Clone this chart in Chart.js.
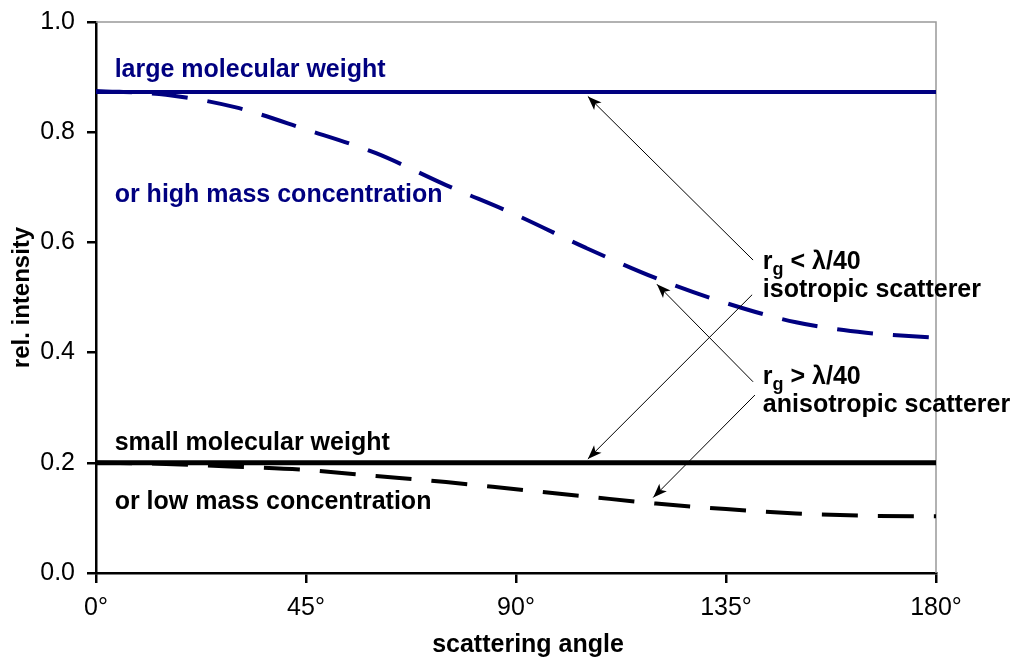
<!DOCTYPE html>
<html lang="en">
  <head>
    <meta charset="UTF-8">
    <title>Relative scattering intensity</title>
    <style>
      html, body { margin: 0; padding: 0; background: #fff; }
      .wrap { width: 1013px; height: 660px; }
    </style>
  </head>
  <body>
    <div class="wrap">
      <canvas id="myChart" width="1013" height="660"></canvas>
    </div>

    <script src="https://cdn.jsdelivr.net/npm/chart.js"></script>
    <script>
      // values
      const angles = [0, 15, 30, 45, 60, 75, 90, 105, 120, 135, 150, 165, 180];
      const highAniso = [0.875, 0.868, 0.845, 0.805, 0.762, 0.704, 0.65, 0.59, 0.535, 0.49, 0.455, 0.436, 0.427];
      const lowAniso = [0.2, 0.198, 0.193, 0.187, 0.176, 0.165, 0.152, 0.139, 0.126, 0.116, 0.108, 0.104, 0.103];
      const isoAngles = [0, 180];
      const highIso = [0.873, 0.873];
      const lowIso = [0.2, 0.2];
      const xTicks = [0, 45, 90, 135, 180];
      const yTicks = [0, 0.2, 0.4, 0.6, 0.8, 1.0];

      const NAVY = '#000080';
      const FONT = '"Liberation Sans", Arial, sans-serif';

      const pts = (xs, ys) => xs.map((x, i) => ({ x: x, y: ys[i] }));

      // annotation text + arrows (in data units)
      const labels = [
        { text: 'large molecular weight', x: 4, y: 0.913, color: NAVY },
        { text: 'or high mass concentration', x: 4, y: 0.686, color: NAVY },
        { text: 'small molecular weight', x: 4, y: 0.236, color: '#000' },
        { text: 'or low mass concentration', x: 4, y: 0.129, color: '#000' },
        { text: 'isotropic scatterer', x: 142.9, y: 0.514, color: '#000' },
        { text: 'anisotropic scatterer', x: 142.9, y: 0.305, color: '#000' }
      ];
      const rgLabels = [
        { rel: ' < \u03bb/40', x: 142.9, y: 0.565 },
        { rel: ' > \u03bb/40', x: 142.9, y: 0.356 }
      ];
      const arrows = [
        { from: [140.8, 0.568], to: [105.4, 0.865] },
        { from: [140.6, 0.505], to: [105.4, 0.207] },
        { from: [140.8, 0.347], to: [120.2, 0.524] },
        { from: [141.2, 0.323], to: [119.4, 0.137] }
      ];

      const notes = {
        id: 'notes',
        beforeDatasetsDraw(chart) {
          const { ctx, chartArea: a } = chart;
          ctx.save();
          ctx.strokeStyle = '#999';
          ctx.lineWidth = 1.5;
          ctx.beginPath();
          ctx.moveTo(a.left, a.top);
          ctx.lineTo(a.right, a.top);
          ctx.lineTo(a.right, a.bottom);
          ctx.stroke();
          ctx.restore();
        },
        afterDatasetsDraw(chart) {
          const { ctx } = chart;
          const xs = chart.scales.x, ys = chart.scales.y;
          ctx.save();
          ctx.textBaseline = 'middle';
          ctx.textAlign = 'left';
          ctx.font = 'bold 25px ' + FONT;
          labels.forEach(l => {
            ctx.fillStyle = l.color;
            ctx.fillText(l.text, xs.getPixelForValue(l.x), ys.getPixelForValue(l.y));
          });
          ctx.fillStyle = '#000';
          rgLabels.forEach(l => {
            let px = xs.getPixelForValue(l.x);
            const py = ys.getPixelForValue(l.y);
            ctx.font = 'bold 25px ' + FONT;
            ctx.fillText('r', px, py);
            px += ctx.measureText('r').width;
            ctx.font = 'bold 18px ' + FONT;
            ctx.fillText('g', px, py + 8);
            px += ctx.measureText('g').width;
            ctx.font = 'bold 25px ' + FONT;
            ctx.fillText(l.rel, px, py);
          });

          // arrows
          ctx.strokeStyle = '#000';
          ctx.lineWidth = 1;
          arrows.forEach(ar => {
            const x1 = xs.getPixelForValue(ar.from[0]), y1 = ys.getPixelForValue(ar.from[1]);
            const x2 = xs.getPixelForValue(ar.to[0]), y2 = ys.getPixelForValue(ar.to[1]);
            const ang = Math.atan2(y2 - y1, x2 - x1);
            ctx.beginPath();
            ctx.moveTo(x1, y1);
            ctx.lineTo(x2, y2);
            ctx.stroke();
            const len = 15, w = 0.36;
            ctx.beginPath();
            ctx.moveTo(x2, y2);
            ctx.lineTo(x2 - len * Math.cos(ang - w), y2 - len * Math.sin(ang - w));
            ctx.lineTo(x2 - len * 0.7 * Math.cos(ang), y2 - len * 0.7 * Math.sin(ang));
            ctx.lineTo(x2 - len * Math.cos(ang + w), y2 - len * Math.sin(ang + w));
            ctx.closePath();
            ctx.fill();
          });

          // x axis title (sits a little right of centre in the original)
          ctx.font = 'bold 25px ' + FONT;
          ctx.textAlign = 'center';
          ctx.fillText('scattering angle', 528, 645);
          ctx.restore();
        }
      };

      const ctx = document.getElementById('myChart');

      new Chart(ctx, {
        type: 'line',
        data: {
          datasets: [
            {
              data: pts(angles, highAniso),
              borderColor: NAVY,
              borderWidth: 4,
              borderDash: [36, 20],
              cubicInterpolationMode: 'monotone',
              pointRadius: 0
            },
            {
              data: pts(angles, lowAniso),
              borderColor: '#000',
              borderWidth: 4,
              borderDash: [36, 20],
              cubicInterpolationMode: 'monotone',
              pointRadius: 0
            },
            {
              data: pts(isoAngles, highIso),
              borderColor: NAVY,
              borderWidth: 4,
              pointRadius: 0
            },
            {
              data: pts(isoAngles, lowIso),
              borderColor: '#000',
              borderWidth: 5,
              pointRadius: 0
            }
          ]
        },
        options: {
          responsive: false,
          animation: false,
          layout: { padding: { top: 22, right: 77, left: 0, bottom: 0 } },
          plugins: {
            legend: { display: false },
            tooltip: { enabled: false }
          },
          scales: {
            x: {
              type: 'linear',
              min: 0,
              max: 180,
              afterFit: s => { s.height = 87; s.paddingLeft = 0; s.paddingRight = 0; },
              afterBuildTicks: s => { s.ticks = xTicks.map(v => ({ value: v })); },
              border: { color: '#000', width: 2.5 },
              grid: { drawOnChartArea: false, color: '#000', lineWidth: 2.5, tickLength: 10 },
              ticks: {
                color: '#000',
                padding: 10,
                font: { family: FONT, size: 25 },
                callback: v => v + '\u00b0'
              }
            },
            y: {
              min: 0,
              max: 1,
              afterFit: s => { s.width = 96; s.paddingTop = 0; s.paddingBottom = 0; },
              afterBuildTicks: s => { s.ticks = yTicks.map(v => ({ value: v })); },
              border: { color: '#000', width: 2.5 },
              grid: { drawOnChartArea: false, color: '#000', lineWidth: 2.5, tickLength: 9 },
              ticks: {
                color: '#000',
                padding: 12,
                font: { family: FONT, size: 25 },
                callback: v => v.toFixed(1)
              },
              title: {
                display: true,
                text: 'rel. intensity',
                color: '#000',
                font: { family: FONT, size: 24, weight: 'bold' },
                padding: { top: 8, bottom: 0 }
              }
            }
          }
        },
        plugins: [notes]
      });
    </script>
  </body>
</html>
